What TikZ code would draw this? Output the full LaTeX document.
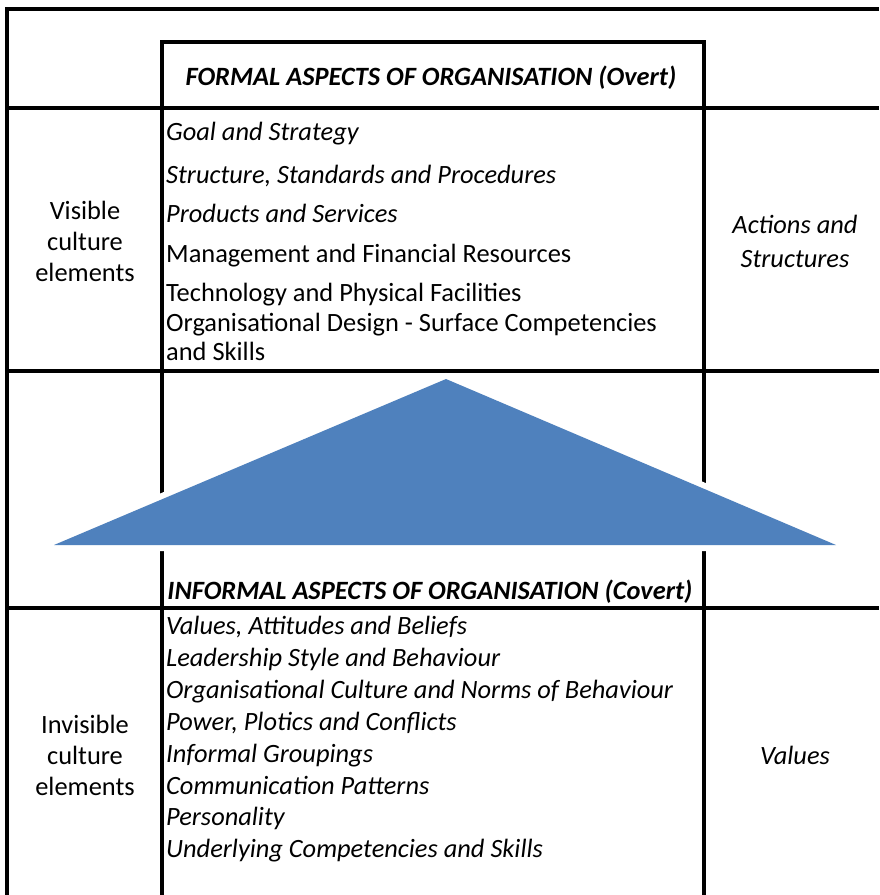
\documentclass[tikz,border=0pt]{standalone}
\usepackage{fontspec}
\setmainfont{Carlito}
\definecolor{pyramid}{HTML}{4F81BD}

\begin{document}
\begin{tikzpicture}[x=1pt,y=-1pt]

      \useasboundingbox (0,0) rectangle (879,895);

      \begin{scope}[line width=3.4pt]
        \draw (879,9) -- (7,9) -- (7,895);
        \draw (162,895) -- (162,42) -- (704,42) -- (704,895);
        \draw (7,108) -- (879,108);
        \draw (7,371) -- (879,371);
        \draw (7,608) -- (879,608);
      \end{scope}

      \fill[pyramid,preaction={draw=white,line width=12pt,line join=round}]
        (446,379) -- (836,545) -- (54,545) -- cycle;

      \begin{scope}[every node/.style={inner sep=0pt,font=\fontsize{26.4}{31}\selectfont}]
        \node (formal)   at (431,78)  {\bfseries\itshape FORMAL ASPECTS OF ORGANISATION (Overt)};
        \node (informal) at (430,592) {\bfseries\itshape INFORMAL ASPECTS OF ORGANISATION (Covert)};

        \node[align=center] (visible)   at (85,241)  {Visible\\culture\\elements};
        \node[align=center] (invisible) at (85,755)  {Invisible\\culture\\elements};
        \node[align=center,font=\fontsize{26.4}{34}\selectfont\itshape] (actions) at (795,241) {Actions and\\Structures};
        \node[font=\fontsize{26.4}{31}\selectfont\itshape] (values) at (795,755) {Values};
      \end{scope}

      \begin{scope}[every node/.style={anchor=base west,inner sep=0pt,font=\fontsize{26.4}{31}\selectfont}]
        \node[font=\fontsize{26.4}{31}\selectfont\itshape] (goal)    at (166,140) {Goal and Strategy};
        \node[font=\fontsize{26.4}{31}\selectfont\itshape] (struct)  at (166,183) {Structure, Standards and Procedures};
        \node[font=\fontsize{26.4}{31}\selectfont\itshape] (product) at (166,222) {Products and Services};
        \node (manage) at (166,262) {Management and Financial Resources};
        \node (tech)   at (166,301) {Technology and Physical Facilities};
        \node (design) at (166,331) {Organisational Design - Surface Competencies};
        \node (skills) at (166,360) {and Skills};
      \end{scope}

      \begin{scope}[every node/.style={anchor=base west,inner sep=0pt,font=\fontsize{26.4}{31}\selectfont\itshape}]
        \node (belief)  at (166,634) {Values, Attitudes and Beliefs};
        \node (leader)  at (166,666) {Leadership Style and Behaviour};
        \node (norms)   at (166,698) {Organisational Culture and Norms of Behaviour};
        \node (power)   at (166,730) {Power, Plotics and Conflicts};
        \node (groups)  at (166,762) {Informal Groupings};
        \node (comm)    at (166,794) {Communication Patterns};
        \node (person)  at (166,825) {Personality};
        \node (compet)  at (166,857) {Underlying Competencies and Skills};
      \end{scope}

    \end{tikzpicture}
\end{document}
